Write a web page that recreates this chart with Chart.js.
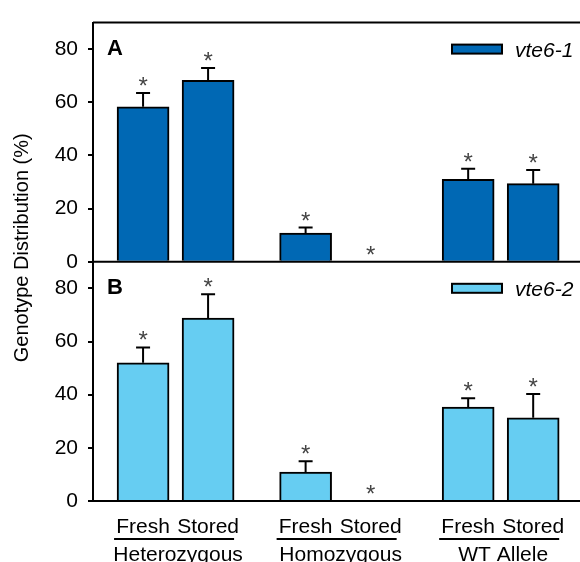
<!DOCTYPE html>
<html>
<head>
<meta charset="utf-8">
<script src="https://cdn.jsdelivr.net/npm/chart.js@4"></script>
<style>
  html, body { margin: 0; padding: 0; background: #fff; overflow: hidden; }
</style>
</head>
<body>
<canvas id="genotypeChart" width="580" height="562"></canvas>
<script>
// values (percent)
const conditions = ['Fresh', 'Stored', 'Fresh', 'Stored', 'Fresh', 'Stored'];
const groups = ['Heterozygous', 'Homozygous', 'WT Allele'];
const vte61 = [58.3, 68.3, 10.8, 0, 31.0, 29.4];
const vte61Err = [5.2, 4.6, 2.1, 0, 4.0, 5.1];
const vte62 = [52.0, 68.8, 10.9, 0, 35.3, 31.3];
const vte62Err = [5.8, 9.0, 4.1, 0, 3.4, 9.0];
const yTicks = [0, 20, 40, 60, 80];
const slots = [0, 1, 2.5, 3.5, 5, 6]; // bar centres on the x scale

const FONT = "'Liberation Sans', Arial, sans-serif";
Chart.defaults.font.family = FONT;
Chart.defaults.color = '#000';

function yAxis() {
    return {
        type: 'linear',
        position: 'left',
        stack: 'panels',
        stackWeight: 1,
        min: 0,
        max: 90,
        afterBuildTicks: s => { s.ticks = yTicks.map(v => ({ value: v })); },
        afterFit: s => { s.width = 93; },
        ticks: { font: { size: 21 }, color: '#000', padding: 10 },
        grid: { display: true, drawOnChartArea: false, drawTicks: true, tickLength: 5, color: '#000', lineWidth: 2 },
        border: { display: true, color: '#000', width: 2 }
    };
}

const extras = {
    id: 'extras',
    afterDatasetsDraw(chart) {
        const { ctx, chartArea: area, scales } = chart;
        const x = scales.x;
        const panels = [
            { axis: scales.yA, values: vte61, errs: vte61Err, ds: 0, letter: 'A' },
            { axis: scales.yB, values: vte62, errs: vte62Err, ds: 1, letter: 'B' }
        ];
        ctx.save();
        ctx.strokeStyle = '#000';
        ctx.lineWidth = 2;

        // top border of panel A
        ctx.beginPath();
        ctx.moveTo(area.left, area.top);
        ctx.lineTo(area.right, area.top);
        ctx.stroke();

        panels.forEach(p => {
            const y0 = p.axis.getPixelForValue(0);
            ctx.strokeStyle = '#000';
            ctx.lineWidth = 2;
            ctx.beginPath();
            ctx.moveTo(area.left, y0);
            ctx.lineTo(area.right, y0);
            ctx.stroke();

            p.values.forEach((v, i) => {
                const cx = x.getPixelForValue(slots[i]);
                let mark = p.axis.getPixelForValue(v);
                if (p.errs[i] > 0) {
                    const ey = p.axis.getPixelForValue(v + p.errs[i]);
                    ctx.beginPath();
                    ctx.moveTo(cx, mark);
                    ctx.lineTo(cx, ey);
                    ctx.moveTo(cx - 7, ey);
                    ctx.lineTo(cx + 7, ey);
                    ctx.stroke();
                    mark = ey;
                }
                // significance asterisk
                ctx.fillStyle = '#444';
                ctx.font = '24px ' + FONT;
                ctx.textAlign = 'center';
                ctx.textBaseline = 'alphabetic';
                ctx.fillText('*', cx, mark - 13 + 14);
            });

            // panel letter
            const top = p.axis.top;
            ctx.fillStyle = '#000';
            ctx.font = 'bold 22px ' + FONT;
            ctx.textAlign = 'left';
            ctx.fillText(p.letter, area.left + 14, top + 32);

            // legend
            const ds = chart.data.datasets[p.ds];
            ctx.fillStyle = ds.backgroundColor;
            ctx.fillRect(452, top + 22, 50, 9);
            ctx.strokeRect(452, top + 22, 50, 9);
            ctx.fillStyle = '#000';
            ctx.font = 'italic 21px ' + FONT;
            ctx.fillText(ds.label, 515, top + 34);
        });

        // category labels
        ctx.fillStyle = '#000';
        ctx.font = '21px ' + FONT;
        ctx.textAlign = 'center';
        conditions.forEach((c, i) => {
            ctx.fillText(c, x.getPixelForValue(slots[i]), area.bottom + 32);
        });
        groups.forEach((g, k) => {
            const l = x.getPixelForValue(slots[2 * k]) - 29;
            const r = x.getPixelForValue(slots[2 * k + 1]) + 26;
            ctx.beginPath();
            ctx.moveTo(l, area.bottom + 38);
            ctx.lineTo(r, area.bottom + 38);
            ctx.stroke();
            ctx.fillText(g, (l + r) / 2 + 4, area.bottom + 60);
        });

        // y title
        ctx.save();
        ctx.translate(22, (area.top + area.bottom) / 2 - 14);
        ctx.rotate(-Math.PI / 2);
        ctx.font = '20px ' + FONT;
        ctx.textBaseline = 'middle';
        ctx.fillText('Genotype Distribution (%)', 0, 0);
        ctx.restore();

        ctx.restore();
    }
};

const ctx = document.getElementById('genotypeChart').getContext('2d');
new Chart(ctx, {
    type: 'bar',
    data: {
        datasets: [
            {
                label: 'vte6-1',
                data: slots.map((s, i) => ({ x: s, y: vte61[i] })),
                yAxisID: 'yA',
                backgroundColor: '#0068b4',
                borderColor: '#000',
                borderWidth: 2,
                barThickness: 52,
                grouped: false
            },
            {
                label: 'vte6-2',
                data: slots.map((s, i) => ({ x: s, y: vte62[i] })),
                yAxisID: 'yB',
                backgroundColor: '#66cdf2',
                borderColor: '#000',
                borderWidth: 2,
                barThickness: 52,
                grouped: false
            }
        ]
    },
    options: {
        responsive: false,
        animation: false,
        devicePixelRatio: 1,
        layout: { padding: { top: 13, right: 0, bottom: 61, left: 0 } },
        plugins: { legend: { display: false }, tooltip: { enabled: false } },
        scales: {
            x: { type: 'linear', min: -0.77, max: 6.72, offset: false, display: false },
            // stacked axes are laid out bottom-up, so B is defined first
            yB: yAxis(),
            yA: yAxis()
        }
    },
    plugins: [extras]
});
</script>
</body>
</html>
